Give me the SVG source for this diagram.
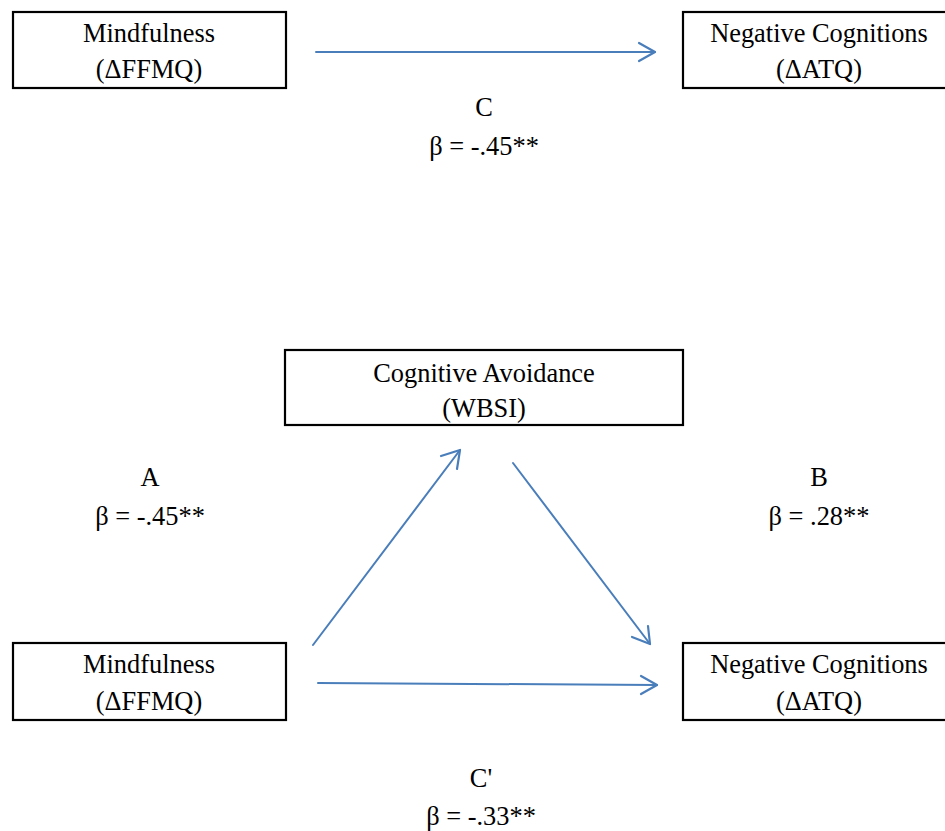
<svg xmlns="http://www.w3.org/2000/svg" width="945" height="831" viewBox="0 0 945 831">
<style>
.box{fill:#fff;stroke:#000;stroke-width:2.2}
.t{font-family:"Liberation Serif","Times New Roman",serif;font-size:26.4px;fill:#000;text-anchor:middle}
.c{fill:none;stroke:#4a7ebb;stroke-width:2;stroke-linecap:round}
.h{fill:none;stroke:#4a7ebb;stroke-width:2.2;stroke-linecap:round;stroke-linejoin:round}
</style>
<rect width="945" height="831" fill="#fff"/>
<g id="mind1"><rect class="box" x="13" y="12" width="273" height="76"/><text class="t" x="149" y="42">Mindfulness</text><text class="t" x="149" y="78">(ΔFFMQ)</text></g>
<g id="neg1"><rect class="box" x="683" y="12" width="270" height="76"/><text class="t" x="819" y="42">Negative Cognitions</text><text class="t" x="819" y="78">(ΔATQ)</text></g>
<g id="avoid"><rect class="box" x="285" y="350" width="398" height="75"/><text class="t" x="484" y="382">Cognitive Avoidance</text><text class="t" x="484" y="417">(WBSI)</text></g>
<g id="mind2"><rect class="box" x="13" y="643" width="273" height="77"/><text class="t" x="149" y="673">Mindfulness</text><text class="t" x="149" y="710">(ΔFFMQ)</text></g>
<g id="neg2"><rect class="box" x="683" y="643" width="270" height="77"/><text class="t" x="819" y="673">Negative Cognitions</text><text class="t" x="819" y="710">(ΔATQ)</text></g>
<g id="labels">
<text class="t" x="484" y="116">C</text><text class="t" x="484" y="155">β = -.45**</text>
<text class="t" x="150" y="486">A</text><text class="t" x="150" y="525">β = -.45**</text>
<text class="t" x="819" y="486">B</text><text class="t" x="819" y="525">β = .28**</text>
<text class="t" x="481" y="787">C'</text><text class="t" x="481" y="825">β = -.33**</text>
</g>
<g id="connectors">
<line class="c" x1="316" y1="52" x2="655" y2="52"/><polyline class="h" points="639,43 655,52 639,61"/>
<line class="c" x1="313" y1="645" x2="460" y2="450" stroke-width="1.6"/><polyline class="h" points="441,456 460,450 457,469"/>
<line class="c" x1="513" y1="463" x2="650" y2="644" stroke-width="1.8"/><polyline class="h" points="632,637 650,644 648,626"/>
<line class="c" x1="318" y1="683" x2="657" y2="685" stroke-width="2.4"/><polyline class="h" points="641,676 657,685 641,694"/>
</g>
</svg>
